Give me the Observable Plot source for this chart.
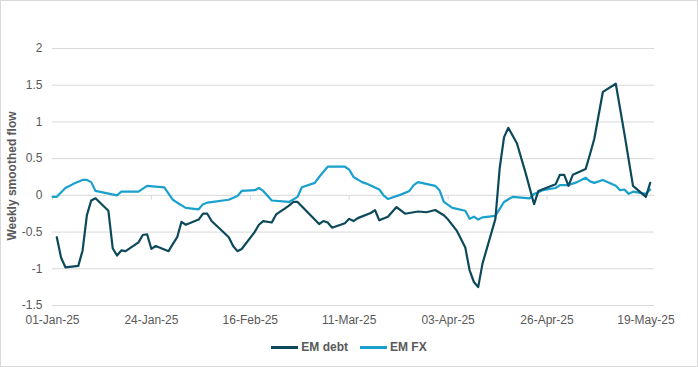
<!DOCTYPE html>
<html>
<head>
<meta charset="utf-8">
<script src="https://cdn.jsdelivr.net/npm/d3@7"></script>
<script src="https://cdn.jsdelivr.net/npm/@observablehq/plot@0.6"></script>
<style>
  html, body { margin: 0; padding: 0; background: #fff; }
  #wrap { position: relative; width: 698px; height: 367px; overflow: hidden; font-family: "Liberation Sans", Arial, sans-serif; }
  #border { position: absolute; left: 0; top: 0; width: 696px; height: 365px; border: 1px solid #d9d9d9; pointer-events: none; }
  #ytitle { position: absolute; left: 12px; top: 176px; transform: translate(-50%, -50%) rotate(-90deg); white-space: nowrap; font-size: 12px; font-weight: bold; color: #595959; }
  #legend { position: absolute; left: 0; top: 338px; width: 698px; height: 18px; display: flex; justify-content: center; align-items: center; font-size: 12px; font-weight: bold; color: #595959; }
  .item { display: flex; align-items: center; margin: 0 6px; }
  .sw { width: 27px; height: 3px; margin-right: 3px; }
</style>
</head>
<body>
<div id="wrap">
  <div id="chart"></div>
  <div id="ytitle">Weekly smoothed flow</div>
  <div id="legend"></div>
  <div id="border"></div>
</div>
<script>
const seriesNames = ["EM debt", "EM FX"];
const seriesColors = ["#0c4a5b", "#19a0cc"];

const debtDates = ["2025-01-02","2025-01-03","2025-01-04","2025-01-07","2025-01-08","2025-01-09","2025-01-10","2025-01-11","2025-01-14","2025-01-15","2025-01-16","2025-01-17","2025-01-18","2025-01-21","2025-01-22","2025-01-23","2025-01-24","2025-01-25","2025-01-28","2025-01-29","2025-01-30","2025-01-31","2025-02-01","2025-02-04","2025-02-05","2025-02-06","2025-02-07","2025-02-11","2025-02-12","2025-02-13","2025-02-14","2025-02-17","2025-02-18","2025-02-19","2025-02-21","2025-02-22","2025-02-24","2025-02-25","2025-02-26","2025-02-27","2025-03-04","2025-03-05","2025-03-06","2025-03-07","2025-03-10","2025-03-11","2025-03-12","2025-03-13","2025-03-16","2025-03-17","2025-03-18","2025-03-20","2025-03-22","2025-03-24","2025-03-26","2025-03-27","2025-03-29","2025-03-31","2025-04-02","2025-04-03","2025-04-05","2025-04-07","2025-04-08","2025-04-09","2025-04-10","2025-04-11","2025-04-14","2025-04-15","2025-04-16","2025-04-17","2025-04-19","2025-04-21","2025-04-23","2025-04-24","2025-04-28","2025-04-29","2025-04-30","2025-05-01","2025-05-02","2025-05-05","2025-05-06","2025-05-07","2025-05-09","2025-05-12","2025-05-14","2025-05-16","2025-05-19","2025-05-20"];
const debtValues = [-0.57,-0.85,-0.98,-0.96,-0.75,-0.27,-0.07,-0.04,-0.21,-0.72,-0.82,-0.75,-0.76,-0.64,-0.54,-0.53,-0.73,-0.69,-0.76,-0.66,-0.57,-0.36,-0.40,-0.33,-0.25,-0.25,-0.35,-0.57,-0.69,-0.76,-0.73,-0.50,-0.40,-0.35,-0.37,-0.26,-0.18,-0.14,-0.09,-0.09,-0.39,-0.35,-0.37,-0.44,-0.38,-0.32,-0.35,-0.31,-0.24,-0.20,-0.34,-0.29,-0.16,-0.25,-0.23,-0.22,-0.23,-0.20,-0.27,-0.33,-0.48,-0.71,-1.02,-1.18,-1.25,-0.93,-0.32,0.37,0.79,0.92,0.71,0.31,-0.12,0.06,0.15,0.28,0.28,0.13,0.28,0.36,0.56,0.77,1.41,1.52,0.84,0.13,-0.02,0.17];

const fxDates = ["2025-01-01","2025-01-02","2025-01-04","2025-01-06","2025-01-08","2025-01-09","2025-01-10","2025-01-11","2025-01-16","2025-01-17","2025-01-21","2025-01-23","2025-01-27","2025-01-29","2025-01-30","2025-02-01","2025-02-04","2025-02-05","2025-02-06","2025-02-11","2025-02-13","2025-02-14","2025-02-17","2025-02-18","2025-02-19","2025-02-21","2025-02-25","2025-02-27","2025-02-28","2025-03-03","2025-03-04","2025-03-06","2025-03-10","2025-03-11","2025-03-12","2025-03-14","2025-03-15","2025-03-18","2025-03-19","2025-03-20","2025-03-23","2025-03-25","2025-03-26","2025-03-27","2025-03-31","2025-04-01","2025-04-02","2025-04-04","2025-04-07","2025-04-08","2025-04-09","2025-04-10","2025-04-11","2025-04-14","2025-04-16","2025-04-18","2025-04-22","2025-04-23","2025-04-25","2025-04-28","2025-04-29","2025-05-01","2025-05-03","2025-05-05","2025-05-06","2025-05-07","2025-05-09","2025-05-12","2025-05-13","2025-05-14","2025-05-15","2025-05-16","2025-05-19","2025-05-20"];
const fxValues = [-0.02,-0.02,0.10,0.16,0.21,0.21,0.18,0.06,0.00,0.05,0.05,0.13,0.11,-0.06,-0.10,-0.17,-0.19,-0.12,-0.10,-0.06,-0.01,0.06,0.07,0.10,0.06,-0.07,-0.09,-0.02,0.11,0.17,0.25,0.39,0.39,0.35,0.25,0.18,0.16,0.08,0.00,-0.05,0.01,0.06,0.14,0.18,0.13,0.07,-0.09,-0.17,-0.21,-0.32,-0.29,-0.33,-0.30,-0.28,-0.09,-0.02,-0.04,0.02,0.07,0.10,0.14,0.14,0.18,0.24,0.19,0.17,0.21,0.13,0.07,0.08,0.02,0.05,0.02,0.08];

const xTickLabels = ["2025-01-01","2025-01-24","2025-02-16","2025-03-11","2025-04-03","2025-04-26","2025-05-19"];
const yTicks = [-1.5, -1, -0.5, 0, 0.5, 1, 1.5, 2];

const parse = d3.utcParse("%Y-%m-%d");
const debt = debtDates.map((d, i) => ({date: parse(d), value: debtValues[i], series: seriesNames[0]}));
const fx = fxDates.map((d, i) => ({date: parse(d), value: fxValues[i], series: seriesNames[1]}));
const xTicks = xTickLabels.map(parse);

const chart = Plot.plot({
  width: 698,
  height: 333,
  marginLeft: 52,
  marginRight: 44,
  marginTop: 48,
  marginBottom: 28,
  style: {fontFamily: '"Liberation Sans", Arial, sans-serif', fontSize: "12px", color: "#595959", background: "transparent"},
  x: {type: "utc", domain: [parse("2025-01-01"), parse("2025-05-21")]},
  y: {domain: [-1.5, 2]},
  marks: [
    Plot.gridY(yTicks, {stroke: "#d9d9d9", strokeOpacity: 1, strokeWidth: 1}),
    Plot.ruleX(xTicks, {y1: 0, y2: -0.065, stroke: "#d9d9d9", strokeWidth: 1}),
    Plot.axisY(yTicks, {tickSize: 0, tickPadding: 10, label: null, tickFormat: d => String(d), fill: "#595959", fontSize: 12}),
    Plot.axisX(xTicks, {tickSize: 0, tickPadding: 10, label: null, tickFormat: d3.utcFormat("%d-%b-%y"), fill: "#595959", fontSize: 12}),
    Plot.line(fx, {x: "date", y: "value", stroke: seriesColors[1], strokeWidth: 2.2}),
    Plot.line(debt, {x: "date", y: "value", stroke: seriesColors[0], strokeWidth: 2.2})
  ]
});
document.getElementById("chart").appendChild(chart);

const legend = document.getElementById("legend");
seriesNames.forEach((name, i) => {
  const item = document.createElement("div");
  item.className = "item";
  const sw = document.createElement("span");
  sw.className = "sw";
  sw.style.background = seriesColors[i];
  const t = document.createElement("span");
  t.textContent = name;
  item.appendChild(sw);
  item.appendChild(t);
  legend.appendChild(item);
});
</script>
</body>
</html>
